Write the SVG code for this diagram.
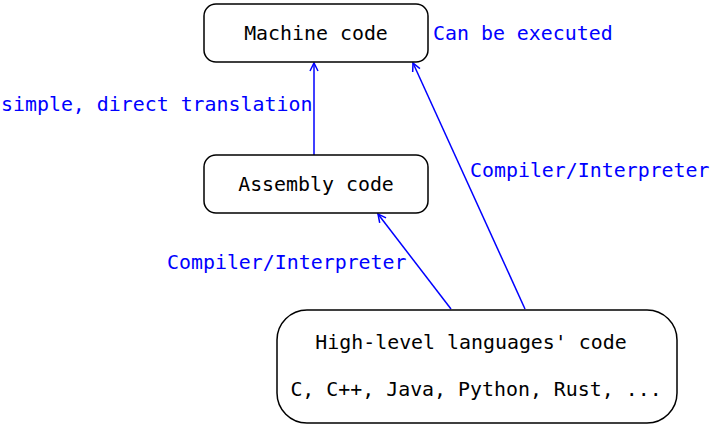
<svg xmlns="http://www.w3.org/2000/svg" width="713" height="427" viewBox="0 0 713 427">
<style>
.box{fill:#fff;stroke:#000;stroke-width:1.5}
.t{font-family:"DejaVu Sans Mono",monospace;font-size:19.9px;fill:#000}
.lbl{font-family:"DejaVu Sans Mono",monospace;font-size:19.9px;fill:#0000ff}
.c{stroke:#0000ff;stroke-width:1.5;fill:none;marker-end:url(#a)}
</style>
<defs>
<marker id="a" viewBox="0 0 10 10" refX="9" refY="5" markerWidth="10" markerHeight="10" markerUnits="userSpaceOnUse" orient="auto">
<path d="M1,1 L9,5 L1,9" fill="none" stroke="#0000ff" stroke-width="1.5"/>
</marker>
</defs>
<rect width="713" height="427" fill="#fff"/>
<g id="connectors">
<line class="c" x1="314" y1="155" x2="314" y2="63"/>
<line class="c" x1="451" y1="309" x2="378" y2="214"/>
<line class="c" x1="525" y1="309" x2="413" y2="63"/>
</g>
<g id="machine">
<rect class="box" x="204" y="4" width="224" height="58" rx="12"/>
<text class="t" x="316" y="40" text-anchor="middle">Machine code</text>
</g>
<g id="assembly">
<rect class="box" x="204" y="155" width="224" height="58" rx="12"/>
<text class="t" x="316" y="191" text-anchor="middle">Assembly code</text>
</g>
<g id="highlevel">
<rect class="box" x="277" y="310" width="400" height="113" rx="30"/>
<text class="t" x="471" y="349" text-anchor="middle">High-level languages' code</text>
<text class="t" x="476" y="396" text-anchor="middle">C, C++, Java, Python, Rust, ...</text>
</g>
<g id="labels">
<text class="lbl" x="433" y="40">Can be executed</text>
<text class="lbl" x="1" y="111">simple, direct translation</text>
<text class="lbl" x="470" y="177">Compiler/Interpreter</text>
<text class="lbl" x="167" y="269">Compiler/Interpreter</text>
</g>
</svg>
